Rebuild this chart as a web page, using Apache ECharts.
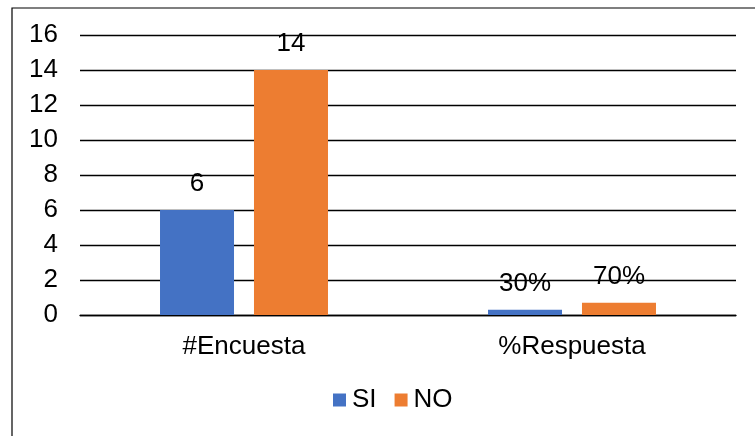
<!DOCTYPE html>
<html>
<head>
<meta charset="utf-8">
<script src="https://cdn.jsdelivr.net/npm/echarts@6/dist/echarts.min.js"></script>
<style>
  html, body { margin: 0; padding: 0; background: #fff; }
  #chart { width: 755px; height: 436px; }
</style>
</head>
<body>
<div id="chart"></div>
<script>
// Survey results: counts and response share
const categories = ['#Encuesta', '%Respuesta'];
const seriesNames = ['SI', 'NO'];
const siValues = [6, 0.3];
const noValues = [14, 0.7];
const yTicks = { min: 0, max: 16, interval: 2 };

const FONT = '"Liberation Sans", Arial, sans-serif';
const TEXT = '#000';
const SIZE = 26;

// Counts print as-is, the share row prints as a percentage
function labelText(p) {
  return p.dataIndex === 1 ? Math.round(p.value * 100) + '%' : String(p.value);
}

const barLabel = {
  show: true,
  position: 'top',
  distance: 13,
  color: TEXT,
  fontFamily: FONT,
  fontSize: SIZE,
  formatter: labelText
};

const chart = echarts.init(document.getElementById('chart'), null, { renderer: 'canvas' });
chart.setOption({
  animation: false,
  backgroundColor: '#fff',
  graphic: [{
    type: 'rect',
    left: 9.5, top: 5.5,
    shape: { width: 800, height: 500 },
    style: { fill: 'none', stroke: '#000', lineWidth: 1.2 },
    silent: true
  }],
  grid: { left: 80, right: 19, top: 35, bottom: 121 },
  legend: {
    data: seriesNames,
    top: 387,
    left: 333,
    padding: 0,
    itemWidth: 13,
    itemHeight: 13,
    itemGap: 18,
    icon: 'rect',
    textStyle: { color: TEXT, fontFamily: FONT, fontSize: SIZE, padding: [0, 0, 0, 1] }
  },
  xAxis: {
    type: 'category',
    data: categories,
    axisLine: { show: true, lineStyle: { color: '#000', width: 1.4 } },
    axisTick: { show: false },
    axisLabel: { color: TEXT, fontFamily: FONT, fontSize: SIZE, margin: 19 }
  },
  yAxis: {
    type: 'value',
    min: yTicks.min,
    max: yTicks.max,
    interval: yTicks.interval,
    axisLine: { show: false },
    axisTick: { show: false },
    axisLabel: { color: TEXT, fontFamily: FONT, fontSize: SIZE, margin: 22 },
    splitLine: { lineStyle: { color: '#000', width: 1.4 } }
  },
  series: [
    {
      name: seriesNames[0],
      type: 'bar',
      data: siValues,
      barWidth: 74,
      barGap: '27%',
      itemStyle: { color: '#4472C4' },
      label: barLabel
    },
    {
      name: seriesNames[1],
      type: 'bar',
      data: noValues,
      barWidth: 74,
      barGap: '27%',
      itemStyle: { color: '#ED7D31' },
      label: barLabel
    }
  ]
});
</script>
</body>
</html>
